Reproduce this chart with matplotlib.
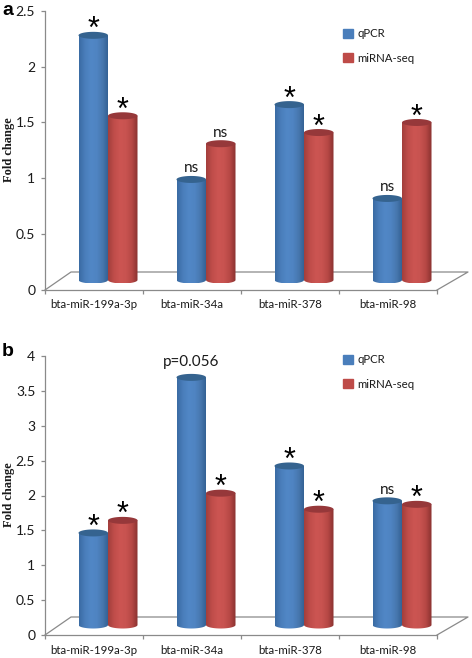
import numpy as np
import matplotlib
matplotlib.use('Agg')
import matplotlib.pyplot as plt
from matplotlib.patches import Patch, PathPatch
from matplotlib.path import Path
from matplotlib.colors import LinearSegmentedColormap

W, H = 472, 658

categories = ['bta-miR-199a-3p', 'bta-miR-34a', 'bta-miR-378', 'bta-miR-98']

qpcr_a = [2.19, 0.90, 1.57, 0.73]
seq_a = [1.47, 1.22, 1.32, 1.41]
qpcr_a_marks = ['*', 'ns', '*', 'ns']
seq_a_marks = ['*', 'ns', '*', '*']
ticks_a = [0, 0.5, 1, 1.5, 2, 2.5]
ticklabels_a = ['0', '0.5', '1', '1.5', '2', '2.5']

qpcr_b = [1.32, 3.55, 2.28, 1.78]
seq_b = [1.50, 1.89, 1.66, 1.73]
qpcr_b_marks = ['*', 'p=0.056', '*', 'ns']
seq_b_marks = ['*', '*', '*', '*']
ticks_b = [0, 0.5, 1, 1.5, 2, 2.5, 3, 3.5, 4]
ticklabels_b = ['0', '0.5', '1', '1.5', '2', '2.5', '3', '3.5', '4']

blue_map = LinearSegmentedColormap.from_list('b', ['#3a6ba3', '#4a7ebb', '#5187c6', '#4f84c2', '#4777ae', '#315e90'])
red_map = LinearSegmentedColormap.from_list('r', ['#a33f3c', '#c04d4a', '#cc5552', '#c85350', '#b74845', '#8a3230'])
blue_top, red_top = '#35638f', '#96383a'
axis_grey = '#8a8a8a'
text_col = '#1a1a1a'

fig = plt.figure(figsize=(W / 100, H / 100), dpi=100)


def cylinder(ax, x, value, width, lift, ry, cmap, top_col):
    # side of the cylinder with a horizontal gradient, clipped to its outline
    y0, y1 = lift, lift + value
    t = np.linspace(np.pi, 0, 30)
    xs = x + width / 2 * np.cos(t)
    bottom = y0 - ry * np.sin(t)
    verts = np.r_[np.c_[xs, bottom], [[xs[-1], y1], [xs[0], y1], [xs[0], bottom[0]]]]
    patch = PathPatch(Path(verts), fc='none', ec='none', transform=ax.transData)
    ax.add_patch(patch)
    grad = np.linspace(0, 1, 64).reshape(1, -1)
    im = ax.imshow(grad, cmap=cmap, extent=[x - width / 2, x + width / 2, y0 - ry, y1],
                   aspect='auto', zorder=3, interpolation='bilinear')
    im.set_clip_path(patch)
    tt = np.linspace(0, 2 * np.pi, 60)
    ax.fill(x + width / 2 * np.cos(tt), y1 + ry * np.sin(tt), color=top_col, zorder=3.1, lw=0, clip_on=False)


def panel(top_px, bottom_px, ymax, qpcr, seq, q_marks, s_marks, ticks, ticklabels, letter, letter_y, leg_y, ylabel_y):
    left_px, right_px = 45, 437
    ax = fig.add_axes([left_px / W, 1 - bottom_px / H, (right_px - left_px) / W, (bottom_px - top_px) / H])
    ax.set_xlim(0, 4)
    ax.set_ylim(0, ymax)
    unit_x = 4 / (right_px - left_px)
    unit_y = ymax / (bottom_px - top_px)

    for s in ['top', 'right']:
        ax.spines[s].set_visible(False)
    for s in ['left', 'bottom']:
        ax.spines[s].set_color(axis_grey)
        ax.spines[s].set_linewidth(0.9)
    ax.set_yticks(ticks)
    ax.set_yticklabels(ticklabels, fontsize=10, family='Lato', color=text_col)
    ax.set_xticks([0, 1, 2, 3, 4])
    ax.set_xticklabels([])
    ax.tick_params(axis='both', color=axis_grey, length=3, width=0.9, pad=4)
    ax.patch.set_alpha(0)

    # floor of the 3D box
    dx, dy = 26 * unit_x, 18 * unit_y
    ax.plot([0, dx, 4 + dx + 5 * unit_x, 4], [0, dy, dy, 0], color=axis_grey, lw=0.9, clip_on=False, zorder=1)

    width = 29.5 * unit_x
    lift = 10 * unit_y
    ry = 3.5 * unit_y
    for i, name in enumerate(categories):
        centre = i + 0.5
        ax.text(centre, -15 * unit_y, name, ha='center', va='center', fontsize=8.3,
                family='Lato', color=text_col)
        xq = centre + 14 * unit_x - width / 2
        xs = centre + 14 * unit_x + width / 2
        cylinder(ax, xq, qpcr[i], width, lift, ry, blue_map, blue_top)
        cylinder(ax, xs, seq[i], width, lift, ry, red_map, red_top)
        for x, v, m in [(xq, qpcr[i], q_marks[i]), (xs, seq[i], s_marks[i])]:
            y = v + lift
            if m == '*':
                ax.text(x, y + 5 * unit_y, m, ha='center', va='center', fontsize=22,
                        family='Liberation Sans', color='black', zorder=5, clip_on=False)
            else:
                off = 15 if len(m) > 2 else 11
                ax.text(x, y + off * unit_y, m, ha='center', va='center', fontsize=11,
                        family='Lato', color=text_col, zorder=5)
    ax.set_xlim(0, 4)
    ax.set_ylim(0, ymax)

    fig.text(9 / W, 1 - ylabel_y / H, 'Fold change', rotation=90, ha='center', va='center',
             fontsize=9, fontweight='bold', family='Liberation Serif', color=text_col)
    fig.text(2 / W, 1 - letter_y / H, letter, ha='left', va='baseline', fontsize=14,
             fontweight='bold', family='Liberation Sans', color='black')

    handles = [Patch(color='#4a7ebb', label='qPCR'), Patch(color='#be4b48', label='miRNA-seq')]
    leg = fig.legend(handles=handles, loc='upper left', bbox_to_anchor=(340 / W, 1 - leg_y / H),
                     frameon=False, handlelength=0.8, handleheight=0.85,
                     handletextpad=0.45, labelspacing=1.15, borderpad=0.3, borderaxespad=0,
                     prop={'family': 'Lato', 'size': 8.2})
    for t in leg.get_texts():
        t.set_color(text_col)


panel(10.7, 290, 2.5, qpcr_a, seq_a, qpcr_a_marks, seq_a_marks, ticks_a, ticklabels_a, 'a', 15, 25, 150)
panel(356, 635, 4, qpcr_b, seq_b, qpcr_b_marks, seq_b_marks, ticks_b, ticklabels_b, 'b', 356, 351, 495)

fig.savefig('out.png', dpi=100)
